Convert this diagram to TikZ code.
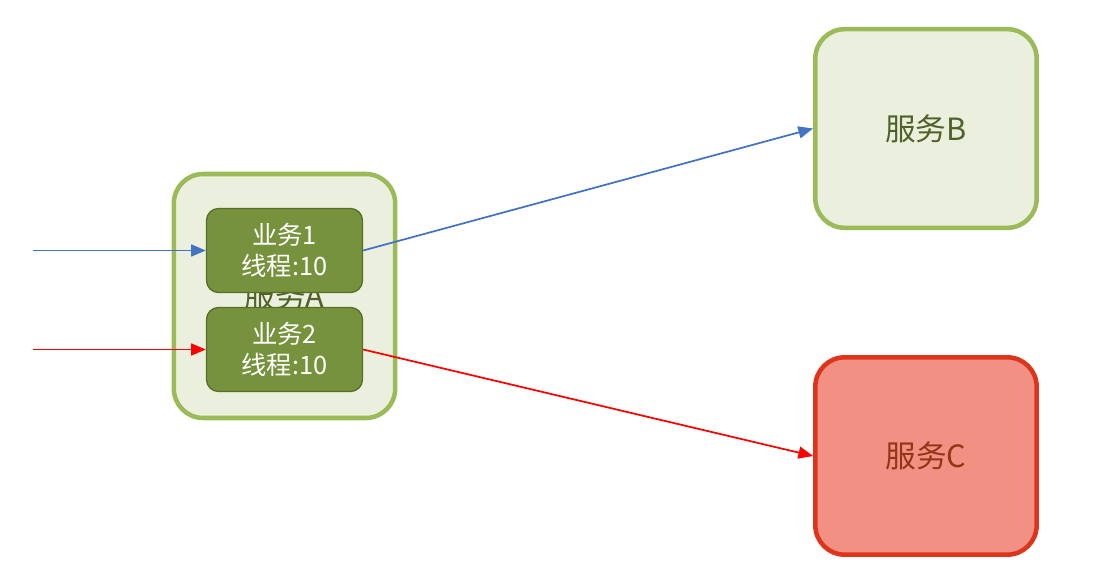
\documentclass[tikz,border=0pt]{standalone}
\usepackage{fontspec}
\setmainfont{Noto Sans CJK SC}
\usetikzlibrary{arrows.meta,positioning}
\definecolor{LeafGreen}{RGB}{155,187,89}
\definecolor{PaleGreen}{RGB}{235,240,222}
\definecolor{OliveText}{RGB}{79,98,40}
\definecolor{TaskGreen}{RGB}{118,146,60}
\definecolor{TaskEdge}{RGB}{88,110,42}
\definecolor{Blue}{RGB}{68,114,196}
\definecolor{Red}{RGB}{255,0,0}
\definecolor{AlarmRed}{RGB}{222,52,28}
\definecolor{SoftRed}{RGB}{242,145,131}
\definecolor{RustText}{RGB}{150,52,22}
\tikzset{
  >=Triangle,
  svc/.style={draw=LeafGreen,line width=3.4pt,rounded corners=22pt,fill=PaleGreen,text=OliveText,font=\fontsize{23}{27}\selectfont,align=center,inner sep=0pt},
  svcerr/.style={svc,draw=AlarmRed,fill=SoftRed,text=RustText},
  task/.style={draw=TaskEdge,line width=1pt,rounded corners=9pt,fill=TaskGreen,text=white,font=\fontsize{19}{23}\selectfont,align=center,inner sep=0pt,minimum width=117pt,minimum height=63pt},
  call/.style={-{Triangle[length=11pt,width=9pt]},line width=1.3pt,draw=Blue},
  fail/.style={call,draw=Red}
}
\begin{document}
\begin{tikzpicture}[x=0.75pt,y=-0.75pt]
  \useasboundingbox (0,0) rectangle (1108,588);
  \node[svc,minimum width=166pt,minimum height=183pt] (svcA) at (284.5,296) {服务A};
  \node[task] (job1) at (284.5,250.5) {业务1\\线程:10};
  \node[task] (job2) at (284.5,349.5) {业务2\\线程:10};
  \node[svc,minimum width=166pt,minimum height=149pt] (svcB) at (926,128.5) {服务B};
  \node[svcerr,minimum width=166pt,minimum height=148pt] (svcC) at (926,456) {服务C};
  \coordinate (inA) at (33,250.5);
  \coordinate (inB) at (33,349.5);
  \draw[call] (inA) -- (job1);
  \draw[call] (job1.east) -- (svcB.west);
  \draw[fail] (inB) -- (job2);
  \draw[fail] (job2.east) -- (svcC.west);
\end{tikzpicture}
\end{document}
